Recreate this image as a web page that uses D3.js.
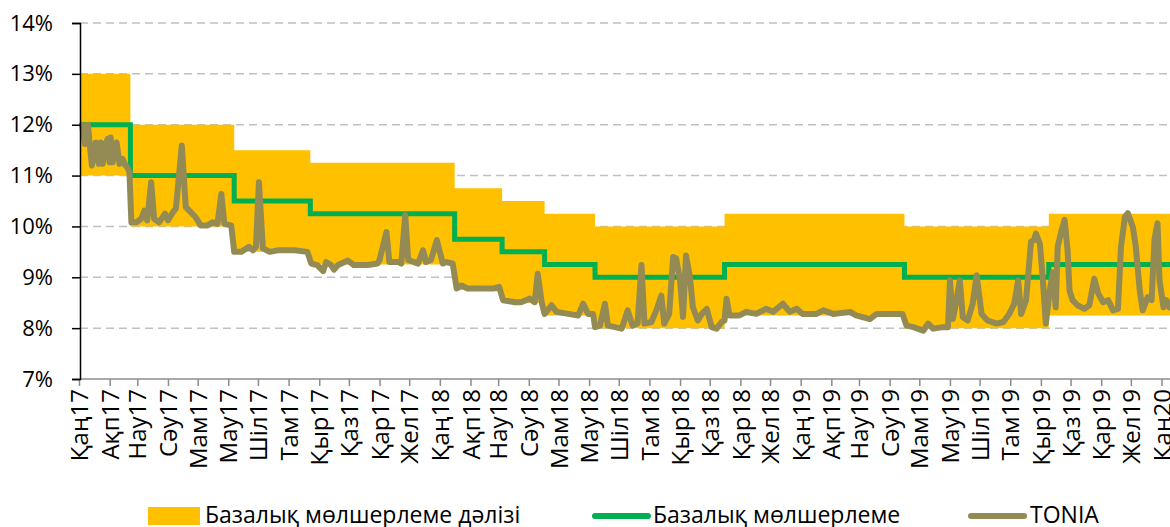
<!DOCTYPE html>
<html>
<head>
<meta charset="utf-8">
<script src="https://cdn.jsdelivr.net/npm/d3@7"></script>
<style>
  body { margin: 0; background: #fff; }
  text { font-family: "Open Sans", sans-serif; fill: #000; }
</style>
</head>
<body>
<div id="chart"></div>
<script>
// policy rate steps and the corridor around it
var rateDates = ["2017-01-03","2017-02-22","2017-06-07","2017-08-23","2018-01-16","2018-03-05","2018-04-17","2018-06-07","2018-10-16","2019-04-16","2019-09-09","2020-01-15"];
var baseRate     = [12, 11, 10.5, 10.25, 9.75, 9.5, 9.25, 9.0, 9.25, 9.0, 9.25, 9.25];
var corridorLow  = [11, 10, 9.5, 9.25, 8.75, 8.5, 8.25, 8.0, 8.25, 8.0, 8.25, 8.25];
var corridorHigh = [13, 12, 11.5, 11.25, 10.75, 10.5, 10.25, 10.0, 10.25, 10.0, 10.25, 10.25];

// TONIA
var toniaDates = [
"2017-01-04","2017-01-07","2017-01-10","2017-01-14","2017-01-18","2017-01-21","2017-01-23","2017-01-25","2017-01-28","2017-01-30",
"2017-02-01","2017-02-02","2017-02-04","2017-02-08","2017-02-11","2017-02-14","2017-02-17","2017-02-19","2017-02-21","2017-02-23",
"2017-02-28","2017-03-05","2017-03-08","2017-03-11","2017-03-15","2017-03-18","2017-03-23","2017-03-29","2017-04-01","2017-04-06",
"2017-04-09","2017-04-15","2017-04-19","2017-04-24","2017-04-29","2017-05-04","2017-05-11","2017-05-16","2017-05-21","2017-05-25",
"2017-05-28","2017-06-04","2017-06-07","2017-06-14","2017-06-22","2017-06-26","2017-06-29","2017-07-02","2017-07-06","2017-07-13",
"2017-07-21","2017-08-07","2017-08-20","2017-08-24","2017-08-30","2017-09-05","2017-09-08","2017-09-13","2017-09-16","2017-09-20",
"2017-09-30","2017-10-06","2017-10-20","2017-10-30",
"2017-11-01","2017-11-08","2017-11-11","2017-11-20","2017-11-23","2017-11-27","2017-11-30","2017-12-10","2017-12-15","2017-12-18",
"2017-12-23","2017-12-29","2018-01-04","2018-01-07","2018-01-14","2018-01-18","2018-01-23","2018-01-29","2018-02-12","2018-02-25",
"2018-03-02","2018-03-06","2018-03-18","2018-03-24","2018-04-02","2018-04-07","2018-04-10","2018-04-14","2018-04-17","2018-04-24",
"2018-04-29","2018-05-11","2018-05-21","2018-05-26","2018-05-31","2018-06-05","2018-06-07","2018-06-12","2018-06-17","2018-06-20",
"2018-06-27","2018-07-04","2018-07-10","2018-07-15","2018-07-20","2018-07-24","2018-07-27","2018-08-03","2018-08-08","2018-08-13",
"2018-08-16","2018-08-21","2018-08-25","2018-08-28","2018-09-01","2018-09-04","2018-09-07","2018-09-11","2018-09-14","2018-09-19",
"2018-09-23","2018-09-28","2018-10-03","2018-10-08","2018-10-13","2018-10-16","2018-10-18","2018-10-21","2018-10-31","2018-11-07",
"2018-11-17","2018-11-27","2018-12-04","2018-12-14","2018-12-21","2018-12-28","2019-01-03","2019-01-17","2019-01-24","2019-02-03",
"2019-02-20","2019-02-26","2019-03-12","2019-03-19","2019-04-01","2019-04-14","2019-04-18","2019-04-25","2019-05-05","2019-05-10",
"2019-05-15","2019-05-25","2019-05-30","2019-06-01","2019-06-04","2019-06-07","2019-06-11","2019-06-14","2019-06-19","2019-06-24",
"2019-06-28","2019-07-03","2019-07-09","2019-07-18","2019-07-25","2019-07-31","2019-08-05","2019-08-09","2019-08-12","2019-08-17",
"2019-08-22","2019-08-25","2019-08-27","2019-08-31","2019-09-03","2019-09-06","2019-09-10","2019-09-13","2019-09-16","2019-09-18",
"2019-09-22","2019-09-25","2019-09-28","2019-09-30","2019-10-03","2019-10-08","2019-10-15","2019-10-20","2019-10-25","2019-10-29",
"2019-11-03","2019-11-08","2019-11-13","2019-11-18","2019-11-21","2019-11-25","2019-11-28","2019-12-03","2019-12-06","2019-12-10",
"2019-12-13","2019-12-18","2019-12-22","2019-12-25","2019-12-28","2019-12-30","2020-01-03","2020-01-06","2020-01-09"
];
var toniaValues = [
12.0, 11.62, 12.0, 11.2, 11.65, 11.23, 11.65, 11.23, 11.62, 11.72,
11.26, 11.75, 11.26, 11.65, 11.23, 11.33, 11.2, 11.16, 11.07, 10.08,
10.08, 10.15, 10.31, 10.12, 10.87, 10.15, 10.08, 10.25, 10.12, 10.28,
10.35, 11.59, 10.38, 10.28, 10.18, 10.02, 10.02, 10.08, 10.05, 10.64,
10.05, 10.02, 9.5, 9.5, 9.6, 9.53, 9.6, 10.87, 9.57, 9.5,
9.53, 9.53, 9.5, 9.27, 9.24, 9.12, 9.3, 9.24, 9.15, 9.24,
9.33, 9.24, 9.24, 9.27,
9.34, 9.89, 9.3, 9.3, 9.27, 10.22, 9.34, 9.27, 9.53, 9.3,
9.34, 9.73, 9.27, 9.3, 9.27, 8.78, 8.84, 8.78, 8.78, 8.78,
8.81, 8.55, 8.51, 8.51, 8.58, 8.51, 9.07, 8.51, 8.28, 8.45,
8.32, 8.28, 8.25, 8.48, 8.28, 8.28, 8.02, 8.05, 8.48, 8.05,
8.02, 7.99, 8.35, 8.05, 8.09, 9.24, 8.09, 8.12, 8.35, 8.64,
8.09, 8.28, 9.4, 9.37, 8.94, 8.22, 9.43, 9.0, 8.41, 8.15,
8.28, 8.38, 8.02, 7.99, 8.12, 8.15, 8.58, 8.25, 8.25, 8.32,
8.28, 8.38, 8.32, 8.48, 8.32, 8.38, 8.28, 8.28, 8.35, 8.28,
8.32, 8.25, 8.18, 8.28, 8.28, 8.28, 8.05, 8.02, 7.95, 8.09,
7.99, 8.02, 8.02, 8.94, 8.18, 8.48, 8.94, 8.22, 8.15, 8.48,
9.04, 8.28, 8.15, 8.09, 8.12, 8.28, 8.48, 8.94, 8.28, 8.55,
9.7, 9.73, 9.86, 9.66, 8.94, 8.09, 8.74, 9.1, 8.41, 9.6,
9.93, 10.13, 9.53, 8.74, 8.55, 8.45, 8.38, 8.45, 8.97, 8.68,
8.51, 8.55, 8.35, 8.38, 9.6, 10.19, 10.26, 9.99, 9.6, 8.74,
8.35, 8.61, 8.55, 9.76, 10.06, 8.94, 8.41, 8.55, 8.41
];

var monthNames = ["Қаң","Ақп","Нау","Сәу","Мам","Мау","Шіл","Там","Қыр","Қаз","Қар","Жел"];
var yTicks = [7, 8, 9, 10, 11, 12, 13, 14];
var legendNames = ["Базалық мөлшерлеме дәлізі", "Базалық мөлшерлеме", "TONIA"];

var width = 1170;
var height = 527;
var parseDate = d3.timeParse("%Y-%m-%d");

var svg = d3.select("#chart")
  .append("svg")
  .attr("width", width)
  .attr("height", height);

var xScale = d3.scaleTime()
  .domain([parseDate("2017-01-01"), parseDate("2020-01-01")])
  .range([79, 1161.5]);
var yScale = d3.scaleLinear()
  .domain([7, 14])
  .range([379, 23]);

// gridlines
svg.append("g")
  .attr("class", "grid")
  .selectAll("line")
  .data(yTicks.slice(1))
  .enter()
  .append("line")
  .attr("x1", 80)
  .attr("x2", width)
  .attr("y1", function(d) { return yScale(d); })
  .attr("y2", function(d) { return yScale(d); })
  .attr("stroke", "#c0c0c0")
  .attr("stroke-width", 1.5)
  .attr("stroke-dasharray", "8,5");

var rates = rateDates.map(function(d, i) {
  return { date: parseDate(d), rate: baseRate[i], low: corridorLow[i], high: corridorHigh[i] };
});
var tonia = toniaDates.map(function(d, i) {
  return { date: parseDate(d), value: toniaValues[i] };
});

// corridor band
var band = d3.area()
  .curve(d3.curveStepAfter)
  .x(function(d) { return xScale(d.date); })
  .y0(function(d) { return yScale(d.low); })
  .y1(function(d) { return yScale(d.high); });

svg.append("path")
  .datum(rates)
  .attr("d", band)
  .attr("fill", "#ffc000");

// base rate
var rateLine = d3.line()
  .curve(d3.curveStepAfter)
  .x(function(d) { return xScale(d.date); })
  .y(function(d) { return yScale(d.rate); });

svg.append("path")
  .datum(rates)
  .attr("d", rateLine)
  .attr("fill", "none")
  .attr("stroke", "#00b050")
  .attr("stroke-width", 5);

// TONIA
var toniaLine = d3.line()
  .x(function(d) { return xScale(d.date); })
  .y(function(d) { return yScale(d.value); });

svg.append("path")
  .datum(tonia)
  .attr("d", toniaLine)
  .attr("fill", "none")
  .attr("stroke", "#948a54")
  .attr("stroke-width", 6)
  .attr("stroke-linejoin", "round")
  .attr("stroke-linecap", "round");

// x axis
var xAxis = d3.axisBottom(xScale)
  .ticks(d3.timeMonth.every(1))
  .tickSize(7)
  .tickFormat(function(d) {
    return monthNames[d.getMonth()] + String(d.getFullYear()).slice(2);
  });

var xg = svg.append("g")
  .attr("class", "xAxis")
  .attr("transform", "translate(0,379)")
  .call(xAxis);
xg.select(".domain").attr("stroke", "#8c8c8c").attr("stroke-width", 1.5)
  .attr("d", "M80,0H" + width);
xg.selectAll(".tick line").attr("stroke", "#8c8c8c").attr("stroke-width", 1.5);
xg.selectAll(".tick text")
  .attr("transform", "rotate(-90)")
  .attr("x", -10)
  .attr("y", 0)
  .attr("dy", "0.36em")
  .style("text-anchor", "end")
  .style("font-size", "24px");

// y axis
var yAxis = d3.axisLeft(yScale)
  .tickValues(yTicks)
  .tickSize(8)
  .tickPadding(19)
  .tickFormat(function(d) { return d + "%"; });

var yg = svg.append("g")
  .attr("class", "yAxis")
  .attr("transform", "translate(80,0)")
  .call(yAxis);
yg.select(".domain").attr("stroke", "#000").attr("stroke-width", 1.5);
yg.selectAll(".tick line").attr("stroke", "#000").attr("stroke-width", 1.5);
yg.selectAll(".tick text").style("font-size", "22px");

// legend
var legendX = [148, 595, 971];
var legendTextX = [205, 653, 1030];
var legend = svg.append("g").attr("class", "legend");

legend.append("rect")
  .attr("x", legendX[0])
  .attr("y", 507)
  .attr("width", 52)
  .attr("height", 18)
  .attr("fill", "#ffc000");
legend.append("line")
  .attr("x1", legendX[1]).attr("x2", legendX[1] + 53)
  .attr("y1", 516).attr("y2", 516)
  .attr("stroke", "#00b050").attr("stroke-width", 6)
  .attr("stroke-linecap", "round");
legend.append("line")
  .attr("x1", legendX[2]).attr("x2", legendX[2] + 53)
  .attr("y1", 516).attr("y2", 516)
  .attr("stroke", "#948a54").attr("stroke-width", 6)
  .attr("stroke-linecap", "round");

legend.selectAll("text")
  .data(legendNames)
  .enter()
  .append("text")
  .attr("x", function(d, i) { return legendTextX[i]; })
  .attr("y", 515)
  .attr("dy", "0.35em")
  .style("font-size", "23px")
  .text(function(d) { return d; });
</script>
</body>
</html>
